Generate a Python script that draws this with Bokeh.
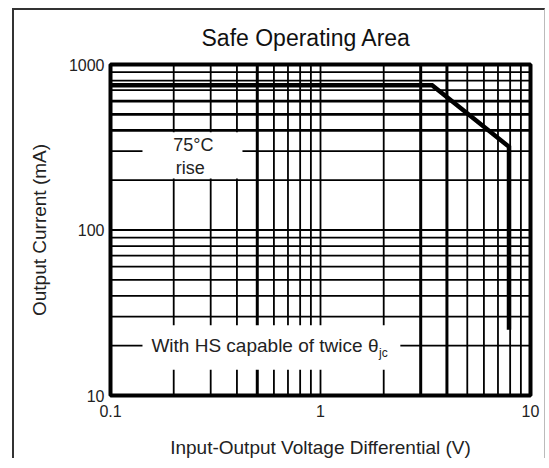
from bokeh.plotting import figure
from bokeh.models import FixedTicker, Label, BoxAnnotation
from bokeh.embed import file_html
from bokeh.resources import INLINE

# ---- data ----
x_ticks = [0.1, 1, 10]
x_tick_labels = ["0.1", "1", "10"]
y_ticks = [10, 100, 1000]
y_tick_labels = ["10", "100", "1000"]

x_grid = [0.2, 0.3, 0.4, 0.5, 0.6, 0.7, 0.8, 0.9, 1, 2, 3, 4, 5, 6, 7, 8, 9]
y_grid = [20, 30, 40, 50, 60, 70, 80, 90, 100, 200, 300, 400, 500, 600, 700, 800, 900]

soa_voltage = [0.1, 3.4, 7.9, 7.9]      # V
soa_current = [750, 750, 318, 25]       # mA

title_text = "Safe Operating Area"

# ---- styles ----
FONT = "Liberation Sans"
x_thick = {0.5, 3, 4}
y_thick = {400, 500, 600}

p = figure(width=533, height=450,
           x_axis_type="log", y_axis_type="log",
           x_range=(0.1, 10), y_range=(10, 1000),
           output_backend="svg", toolbar_location=None,
           min_border_left=96, min_border_right=17,
           min_border_top=54, min_border_bottom=62)
p.styles = {"border-left": "2px solid #333", "border-top": "2px solid #333",
            "border-right": "1px solid #bbb",
            "margin-left": "12px", "margin-top": "8px"}

p.title.text = title_text
p.title.align = "left"
p.title.offset = 91
p.title.text_font = FONT
p.title.text_font_size = "23px"
p.title.text_font_style = "normal"
p.title.text_color = "#111"
p.title.vertical_align = "top"
p.title.standoff = 24

p.xgrid.visible = False
p.ygrid.visible = False
p.outline_line_color = "black"
p.outline_line_width = 4
p.background_fill_color = "white"
p.border_fill_color = "white"

p.xaxis.ticker = FixedTicker(ticks=x_ticks, minor_ticks=[])
p.yaxis.ticker = FixedTicker(ticks=y_ticks, minor_ticks=[])
p.xaxis.major_label_overrides = dict(zip(x_ticks, x_tick_labels))
p.yaxis.major_label_overrides = dict(zip(y_ticks, y_tick_labels))
p.xaxis.axis_label = "Input-Output Voltage Differential (V)"
p.yaxis.axis_label = "Output Current (mA)"
for ax in (p.xaxis, p.yaxis):
    ax.axis_line_color = None
    ax.major_tick_line_color = None
    ax.minor_tick_line_color = None
    ax.major_label_text_font = FONT
    ax.major_label_text_font_size = "16px"
    ax.major_label_text_color = "#222"
    ax.axis_label_text_font = FONT
    ax.axis_label_text_font_size = "19px"
    ax.axis_label_text_font_style = "normal"
    ax.axis_label_text_color = "#222"
p.xaxis.major_label_standoff = 3
p.yaxis.major_label_standoff = 0
p.xaxis.axis_label_standoff = 17
p.yaxis.axis_label_standoff = 16

# grid lines (drawn as segments so widths can vary)
xw = [3.0 if v in x_thick else 1.8 for v in x_grid]
yw = [2.8 if v in y_thick else 1.8 for v in y_grid]
p.segment(x0=x_grid, y0=[y_ticks[0]] * len(x_grid), x1=x_grid, y1=[y_ticks[-1]] * len(x_grid),
          line_color="black", line_width=xw)
p.segment(x0=[x_ticks[0]] * len(y_grid), y0=y_grid, x1=[x_ticks[-1]] * len(y_grid), y1=y_grid,
          line_color="black", line_width=yw)

# SOA boundary
p.line(soa_voltage, soa_current, line_color="black", line_width=4.5, line_join="miter")

# white label boxes
p.add_layout(BoxAnnotation(left=0.142, right=0.425, bottom=205, top=390,
                           fill_color="white", fill_alpha=1, line_color=None))
p.add_layout(BoxAnnotation(left=0.142, right=2.4, bottom=14.3, top=26.6,
                           fill_color="white", fill_alpha=1, line_color=None))

def lab(x, y, t, size="18px", align="center"):
    p.add_layout(Label(x=x, y=y, text=t, text_font=FONT, text_font_size=size,
                       text_align=align, text_baseline="middle", text_color="#222"))

lab(0.248, 327, "75°C")
lab(0.24, 238, "rise")
lab(0.1566, 20, "With HS capable of twice θ", size="19px", align="left")
lab(1.9, 18.0, "jc", size="12px", align="left")

open("out.html", "w").write(file_html(p, INLINE))
